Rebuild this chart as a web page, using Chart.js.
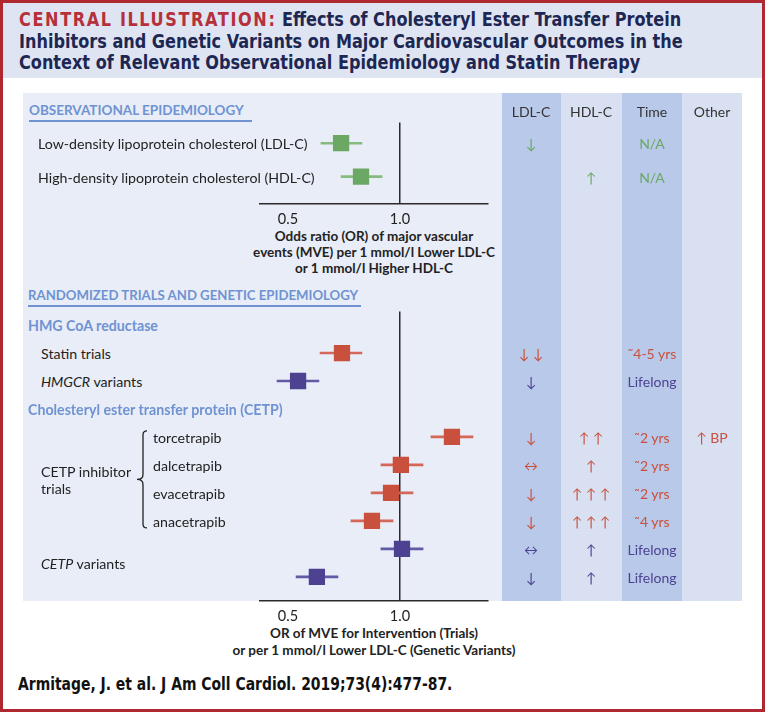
<!DOCTYPE html>
<html>
<head>
<meta charset="utf-8">
<title>CETP inhibitors and genetic variants</title>
<script src="https://cdn.jsdelivr.net/npm/chart.js@4.4.1/dist/chart.umd.min.js"></script>
<style>
  body { margin:0; width:765px; height:712px; position:relative; overflow:hidden; background:#fff;
         font-family: Lato, "Noto Sans", sans-serif; color:#222; }
  .abs { position:absolute; }
  #frame { left:0; top:0; width:765px; height:712px; box-sizing:border-box; border:3px solid #b0282f; }
  #titlebox { left:3px; top:3px; width:759px; height:75px; background:#dfe4f2; }
  #title { left:19px; top:9px; font-weight:bold; font-size:20px; line-height:21.5px;
           font-family:"DejaVu Sans Condensed",sans-serif; color:#1d2753; white-space:nowrap;
           transform:scaleX(0.895); transform-origin:0 0; }
  #title .red { color:#b5303a; letter-spacing:1.8px; }
  #panel { left:23px; top:93px; width:479px; height:508px; background:#e9edf7; }
  .col { top:93px; height:508px; }
  .lbl { white-space:nowrap; transform:translateY(-50%); font-size:14.2px; }
  .cc { transform:translate(-50%,-50%); white-space:nowrap; font-size:14px; }
  .hdr { font-weight:bold; color:#6f93d2; font-size:13.5px; border-bottom:2px solid #6f93d2;
         padding:0 8px 2px 0; white-space:nowrap; }
  .sub { font-weight:bold; color:#6f93d2; }
  .axt { transform:translateX(-50%); text-align:center; font-weight:bold; font-size:13.5px; white-space:nowrap; color:#222; }
  #cite { left:18px; top:673px; font-weight:bold; font-size:18px; transform:scaleX(0.86); transform-origin:0 0;
          font-family:"DejaVu Sans Condensed",sans-serif; color:#111; white-space:nowrap; }
  canvas { position:absolute; }
</style>
</head>
<body>
<div id="frame" class="abs"></div>
<div id="titlebox" class="abs"></div>
<div id="title" class="abs"><span class="red">CENTRAL ILLUSTRATION:</span> Effects of Cholesteryl Ester Transfer Protein<br>Inhibitors and Genetic Variants on Major Cardiovascular Outcomes in the<br>Context of Relevant Observational Epidemiology and Statin Therapy</div>
<div id="panel" class="abs"></div>
<div class="abs col" style="left:502px;width:59px;background:#b9c9e9"></div>
<div class="abs col" style="left:561px;width:61px;background:#d8e0f1"></div>
<div class="abs col" style="left:622px;width:60px;background:#b9c9e9"></div>
<div class="abs col" style="left:682px;width:60px;background:#d8e0f1"></div>
<div class="abs hdr" style="left:29px;top:102px">OBSERVATIONAL EPIDEMIOLOGY</div>
<div class="abs hdr" style="left:28px;top:287px;padding-right:3px;font-size:13.2px">RANDOMIZED TRIALS AND GENETIC EPIDEMIOLOGY</div>
<div class="abs axt" style="left:374px;top:228px;line-height:16px">Odds ratio (OR) of major vascular<br>events (MVE) per 1 mmol/l Lower LDL-C<br>or 1 mmol/l Higher HDL-C</div>
<div class="abs axt" style="left:374px;top:625px;line-height:17px">OR of MVE for Intervention (Trials)<br>or per 1 mmol/l Lower LDL-C (Genetic Variants)</div>
<svg class="abs" id="brace" width="765" height="712" style="left:0;top:0"></svg>
<canvas id="obsChart" width="350" height="165" style="left:200px;top:111px"></canvas>
<canvas id="trialChart" width="350" height="359" style="left:200px;top:300px"></canvas>
<div id="cite" class="abs">Armitage, J. et al. J Am Coll Cardiol. 2019;73(4):477-87.</div>

<script>
// column headings of the summary table
const columns = ['LDL-C', 'HDL-C', 'Time', 'Other'];
const xTicks = [0.5, 1.0];

// observational epidemiology
const obsRows = ['Low-density lipoprotein cholesterol (LDL-C)', 'High-density lipoprotein cholesterol (HDL-C)'];
const obsOR = [0.737, 0.826];
const obsLow = [0.647, 0.737];
const obsHigh = [0.830, 0.920];
const obsLdl = ['↓', ''];
const obsHdl = ['', '↑'];
const obsTime = ['N/A', 'N/A'];

// randomized trials and genetic epidemiology
const trialRows = ['HMG CoA reductase', 'Statin trials', 'HMGCR variants',
  'Cholesteryl ester transfer protein (CETP)', 'torcetrapib', 'dalcetrapib',
  'evacetrapib', 'anacetrapib', 'CETP variants', 'CETP variants'];
const trialKind = ['header', 'statin', 'gene', 'header', 'cetpi', 'cetpi', 'cetpi', 'cetpi', 'gene', 'gene'];
const trialOR = [null, 0.741, 0.545, null, 1.232, 1.004, 0.960, 0.875, 1.009, 0.629];
const trialLow = [null, 0.643, 0.451, null, 1.138, 0.915, 0.871, 0.781, 0.915, 0.536];
const trialHigh = [null, 0.830, 0.638, null, 1.326, 1.103, 1.058, 0.969, 1.103, 0.723];
const trialLdl = ['', '↓ ↓', '↓', '', '↓', '↔', '↓', '↓', '↔', '↓'];
const trialHdl = ['', '', '', '', '↑ ↑', '↑', '↑ ↑ ↑', '↑ ↑ ↑', '↑', '↑'];
const trialTime = ['', '˜4-5 yrs', 'Lifelong', '', '˜2 yrs', '˜2 yrs', '˜2 yrs', '˜4 yrs', 'Lifelong', 'Lifelong'];
const trialOther = ['', '', '', '', '↑ BP', '', '', '', '', ''];

const markColor = { obs: '#6aa864', statin: '#c9503d', cetpi: '#c9503d', gene: '#4d4292' };
const lineColor = { obs: '#85bb7e', statin: '#d4675a', cetpi: '#d4675a', gene: '#635aa6' };
const colX = [531, 591, 652, 712];

function forest(id, rows, est, low, high, kinds, yMin, yMax, axisH) {
  const idx = rows.map((r, i) => i).filter(i => est[i] !== null);
  return new Chart(document.getElementById(id), {
    type: 'scatter',
    data: {
      datasets: [
        { type: 'bar', indexAxis: 'y', order: 2, barThickness: 2, borderWidth: 0,
          data: idx.map(i => ({ y: i, x: [low[i], high[i]] })),
          backgroundColor: idx.map(i => lineColor[kinds[i]]) },
        { type: 'scatter', order: 1, pointStyle: 'rect', pointRadius: 11.5, pointHoverRadius: 11.5, borderWidth: 0,
          data: idx.map(i => ({ x: est[i], y: i })),
          backgroundColor: idx.map(i => markColor[kinds[i]]) }
      ]
    },
    options: {
      responsive: false, animation: false, events: [],
      layout: { padding: { left: 60, right: 62, top: 10, bottom: 0 } },
      plugins: { legend: { display: false }, tooltip: { enabled: false } },
      scales: {
        x: {
          type: 'linear', min: 0.375, max: 1.393,
          afterBuildTicks: s => { s.ticks = xTicks.map(v => ({ value: v })); },
          afterFit: s => { s.height = axisH; },
          ticks: { padding: 7, color: '#222', font: { family: 'Lato', size: 14.5 }, callback: v => v.toFixed(1) },
          grid: { drawTicks: false, lineWidth: 1.5,
                  color: c => (c.tick && c.tick.value === 1) ? '#2b2b2b' : 'rgba(0,0,0,0)' },
          border: { display: true, color: '#2b2b2b', width: 1.5 }
        },
        y: { type: 'linear', reverse: true, offset: false, min: yMin, max: yMax, display: false }
      }
    }
  });
}

function put(html, x, y, cls, color) {
  const d = document.createElement('div');
  d.className = 'abs ' + cls;
  d.style.left = x + 'px';
  d.style.top = y + 'px';
  if (color) d.style.color = color;
  d.innerHTML = html;
  document.body.appendChild(d);
  return d;
}

const obsChart = forest('obsChart', obsRows, obsOR, obsLow, obsHigh, obsRows.map(() => 'obs'), -0.62, 1.82, 72);
const trialChart = forest('trialChart', trialRows, trialOR, trialLow, trialHigh, trialKind, -0.484, 9.864, 58);

const obsY = i => obsChart.scales.y.getPixelForValue(i) + 111;
const trialY = i => trialChart.scales.y.getPixelForValue(i) + 300;

// table headings
columns.forEach((c, k) => put(c, colX[k], 111, 'cc', '#333'));

// observational rows
obsRows.forEach((name, i) => {
  const y = obsY(i);
  put(name, 38, y, 'lbl');
  put(obsLdl[i], colX[0], y, 'cc', markColor.obs);
  put(obsHdl[i], colX[1], y, 'cc', markColor.obs);
  put(obsTime[i], colX[2], y, 'cc', markColor.obs);
});

// trial / genetic rows
trialRows.forEach((name, i) => {
  const y = trialY(i);
  const kind = trialKind[i];
  if (kind === 'header') {
    put(name, 28, y, 'lbl sub');
    return;
  }
  if (kind === 'cetpi') put(name, 153, y, 'lbl');
  else if (name !== trialRows[i - 1]) {
    let j = i;
    while (trialRows[j + 1] === name) j++;
    const txt = kind === 'gene' ? name.replace(/^(\S+)/, '<i>$1</i>') : name;
    put(txt, 41, (y + trialY(j)) / 2, 'lbl');
  }
  const col = markColor[kind];
  put(trialLdl[i], colX[0], y, 'cc', col);
  put(trialHdl[i], colX[1], y, 'cc', col);
  put(trialTime[i], colX[2], y, 'cc', col);
  put(trialOther[i], colX[3], y, 'cc', col);
});

// CETP inhibitor group label and brace
const inh = trialKind.map((k, i) => k === 'cetpi' ? i : -1).filter(i => i >= 0);
const bTop = trialY(inh[0]) - 6, bBot = trialY(inh[inh.length - 1]) + 7, bMid = (bTop + bBot) / 2;
put('CETP inhibitor<br>trials', 41, bMid + 1, 'lbl', '#222').style.lineHeight = '17px';
document.getElementById('brace').innerHTML =
  `<path d="M147 ${bTop} Q143 ${bTop} 143 ${bTop + 4} L143 ${bMid - 5} Q143 ${bMid} 137 ${bMid} Q143 ${bMid} 143 ${bMid + 5} L143 ${bBot - 4} Q143 ${bBot} 147 ${bBot}" fill="none" stroke="#222" stroke-width="1.3"/>`;
</script>
</body>
</html>
